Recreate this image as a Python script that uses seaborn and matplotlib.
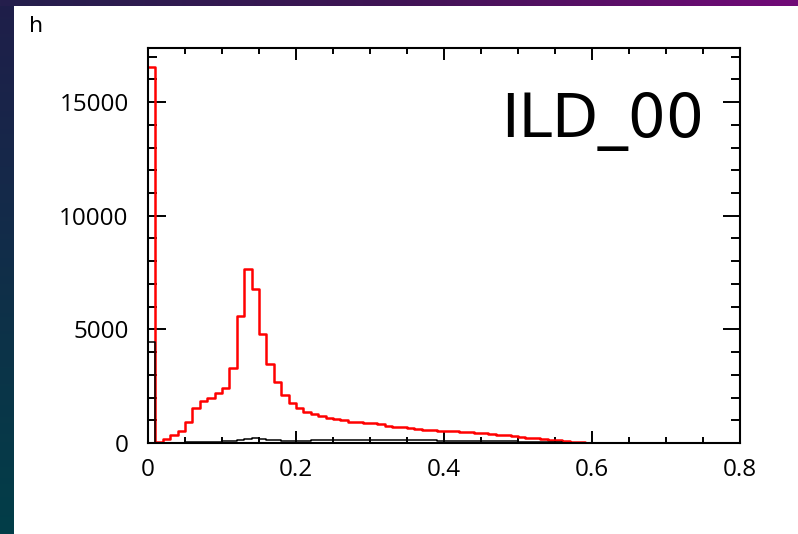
import numpy as np
import pandas as pd
import matplotlib
matplotlib.use("Agg")
import matplotlib.pyplot as plt
from matplotlib.ticker import MultipleLocator
import seaborn as sns

# Histogram binning: 80 bins of width 0.01 over [0, 0.8]
n_bins = 80
x_min, x_max = 0.0, 0.8

# Bin contents (red histogram), one entry per bin starting at 0.00
red_counts = [
    16550, 60, 160, 350, 525, 935, 1520, 1840, 1990, 2180,
    2430, 3300, 5570, 7660, 6780, 4800, 3490, 2680, 2100, 1770,
    1520, 1375, 1260, 1185, 1110, 1050, 1020, 905, 905, 860,
    860, 820, 760, 715, 685, 640, 600, 570, 560, 545,
    530, 510, 490, 465, 440, 420, 390, 360, 335, 310,
    270, 230, 200, 170, 140, 115, 90, 65, 40, 0,
    0, 0, 0, 0, 0, 0, 0, 0, 0, 0,
    0, 0, 0, 0, 0, 0, 0, 0, 0, 0,
]

# Bin contents (black histogram)
black_counts = [
    4450, 5, 10, 15, 20, 25, 30, 40, 50, 60,
    70, 90, 130, 190, 200, 170, 140, 120, 110, 100,
    100, 110, 115, 120, 120, 125, 125, 130, 130, 130,
    130, 130, 130, 125, 125, 120, 120, 115, 115, 110,
    110, 100, 100, 95, 90, 90, 85, 80, 75, 70,
    60, 50, 40, 35, 30, 25, 20, 15, 10, 5,
    0, 0, 0, 0, 0, 0, 0, 0, 0, 0,
    0, 0, 0, 0, 0, 0, 0, 0, 0, 0,
]

xtick_values = [0.0, 0.2, 0.4, 0.6, 0.8]
xtick_labels = ["0", "0.2", "0.4", "0.6", "0.8"]
ytick_values = [0, 5000, 10000, 15000]
ytick_labels = ["0", "5000", "10000", "15000"]

hist_title = "h"
hist_label = "ILD_00"

bin_width = (x_max - x_min) / n_bins
centers = x_min + bin_width * (np.arange(n_bins) + 0.5)
df = pd.DataFrame({"x": centers, "red": red_counts, "black": black_counts})

sns.set_style("ticks")
plt.rcParams["font.family"] = ["DejaVu Sans"]

W, H = 798, 534
fig = plt.figure(figsize=(W / 100, H / 100), dpi=100)

# Slide background: dark gradient border with a white panel
yy = np.linspace(0, 1, H)[:, None, None]
xx = np.linspace(0, 1, W)[None, :, None]
left_top = np.array([0x1f, 0x1e, 0x4a]) / 255
left_bot = np.array([0x02, 0x3e, 0x48]) / 255
img = left_top * (1 - yy) + left_bot * yy
img = np.broadcast_to(img, (H, W, 3)).copy()
top_l = np.array([0x24, 0x1f, 0x4c]) / 255
top_m = np.array([0x40, 0x14, 0x55]) / 255
top_r = np.array([0x72, 0x0a, 0x78]) / 255
tx = xx[0]
top_row = np.where(tx < 0.5, top_l * (1 - tx * 2) + top_m * (tx * 2),
                   top_m * (1 - (tx - 0.5) * 2) + top_r * ((tx - 0.5) * 2))
img[:6, :, :] = top_row[None, :, :]
img[6:, 14:, :] = 1.0
bg = fig.add_axes([0, 0, 1, 1], zorder=-10)
bg.imshow(img, aspect="auto", extent=(0, 1, 0, 1), interpolation="nearest")
bg.set_axis_off()

ax = fig.add_axes([148 / W, 1 - 443 / H, (740 - 148) / W, (443 - 48) / H])
ax.set_facecolor("white")

sns.histplot(data=df, x="x", weights="red", bins=n_bins, binrange=(x_min, x_max),
             element="step", fill=False, color="#ff0000", linewidth=1.8, ax=ax)
sns.histplot(data=df, x="x", weights="black", bins=n_bins, binrange=(x_min, x_max),
             element="step", fill=False, color="black", linewidth=1.1, ax=ax)

ax.set_xlim(x_min, x_max)
ax.set_ylim(0, 17380)
ax.set_xlabel("")
ax.set_ylabel("")

ax.set_xticks(xtick_values)
ax.set_xticklabels(xtick_labels)
ax.set_yticks(ytick_values)
ax.set_yticklabels(ytick_labels)
ax.xaxis.set_minor_locator(MultipleLocator(0.05))
ax.yaxis.set_minor_locator(MultipleLocator(1000))

for s in ax.spines.values():
    s.set_visible(True)
    s.set_linewidth(1.5)
    s.set_color("black")

tick_font = ["Open Sans", "DejaVu Sans"]
ax.tick_params(axis="both", which="both", direction="in", top=True, right=True,
               color="black", width=1.4, labelcolor="black")
ax.tick_params(axis="x", which="major", length=8.6, pad=11, labelsize=17.5)
ax.tick_params(axis="x", which="minor", length=4.3)
ax.tick_params(axis="y", which="major", length=12.6, pad=14, labelsize=17.5)
ax.tick_params(axis="y", which="minor", length=6.5)
for lab in ax.get_xticklabels() + ax.get_yticklabels():
    lab.set_family(tick_font)

fig.text(29 / W, 1 - 32 / H, hist_title, fontsize=16, va="baseline",
         ha="left", color="black")
fig.text(501 / W, 1 - 137 / H, hist_label, fontsize=43, va="baseline",
         ha="left", color="black")

fig.savefig("out.png", dpi=100)
